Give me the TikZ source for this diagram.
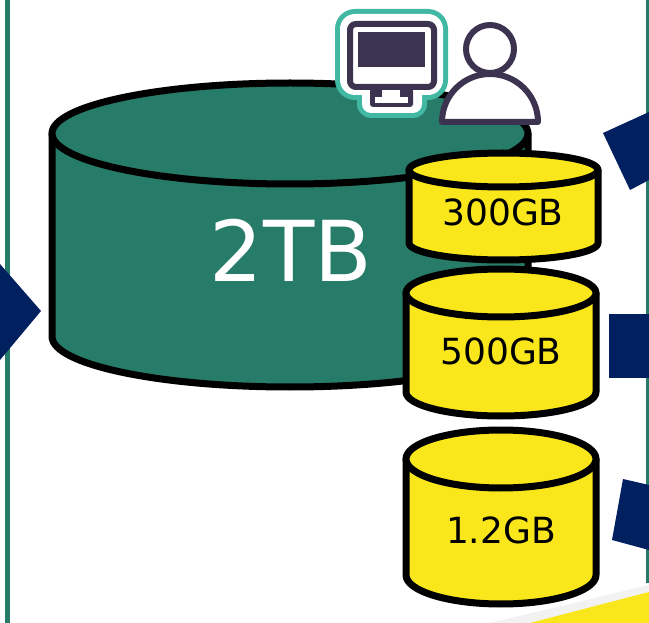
\documentclass[tikz,border=0pt]{standalone}
\usepackage{fontspec}
\setmainfont{DejaVu Sans}
\definecolor{diskgreen}{HTML}{267C68}
\definecolor{diskyellow}{HTML}{F9E71C}
\definecolor{arrowblue}{HTML}{002060}
\definecolor{icondark}{HTML}{3B334F}
\definecolor{iconteal}{HTML}{40B8A2}
\newcommand{\storagedisk}[6]{% fill, cx, cy, rx, ry, height
    \path[disk line,fill=#1] (#2-#4,#3) -- (#2-#4,#3+#6) arc[start angle=180,end angle=0,x radius=#4,y radius=#5] -- (#2+#4,#3) -- cycle;
    \path[disk line,fill=#1] (#2,#3) ellipse[x radius=#4,y radius=#5];
}
\begin{document}
\begin{tikzpicture}[x=1pt,y=-1pt,
    disk line/.style={draw=black,line width=7pt,line join=round},
    small label/.style={font=\fontsize{36}{36}\selectfont,text=black},
    big label/.style={font=\fontsize{84}{84}\selectfont,text=white},
    arrow part/.style={fill=arrowblue},
    frame line/.style={fill=diskgreen},
    icon line/.style={draw=icondark,line width=6pt,line join=round}]

    \useasboundingbox (0,0) rectangle (649,623);

    \path[frame line] (5,0) rectangle (10,623);
    \path[frame line] (646,0) rectangle (649,583);

    \path[fill=black!5] (490,623) -- (649,585) -- (649,623) -- cycle;
    \path[fill=diskyellow] (530,623) -- (649,592) -- (649,623) -- cycle;

    \path[arrow part] (0,264) -- (41,311) -- (0,360) -- cycle;
    \path[arrow part] (603,133) -- (649,112) -- (649,180) -- (630,190) -- cycle;
    \path[arrow part] (609,314) rectangle (649,378);
    \path[arrow part] (623,479) -- (649,485) -- (649,550) -- (612,540) -- cycle;

    \storagedisk{diskgreen}{290}{133.5}{238}{50.5}{203}
    \storagedisk{diskyellow}{503.5}{170}{94.5}{17}{73}
    \storagedisk{diskyellow}{501}{293}{95}{24}{99}
    \storagedisk{diskyellow}{501}{459}{95}{29}{116}

    \node[big label] at (291,250) (big) {2TB};
    \node[small label] at (503,212) (first) {300GB};
    \node[small label] at (501,351) (second) {500GB};
    \node[small label] at (501,530) (third) {1.2GB};

    % screen icon
    \path[fill=iconteal,rounded corners=20pt] (335,9) rectangle (448,100);
    \path[fill=iconteal,rounded corners=14pt] (357,80) rectangle (427,118);
    \path[fill=white,rounded corners=15pt] (340,14) rectangle (443,95);
    \path[fill=white,rounded corners=9pt] (362,85) rectangle (422,113);
    \path[icon line,rounded corners=6pt] (350,24) rectangle (434,87);
    \path[fill=icondark] (358,32) rectangle (425,67);
    \path[fill=icondark,rounded corners=3pt] (370,88) rectangle (413,107);
    \path[fill=white] (382,90) rectangle (400,97);
    \path[fill=white] (375,97) rectangle (408,103);

    % person icon
    \path[icon line,fill=white] (490,49) circle[radius=24];
    \path[icon line,fill=white] (442,122) arc[start angle=180,end angle=360,radius=48] -- cycle;
\end{tikzpicture}
\end{document}
